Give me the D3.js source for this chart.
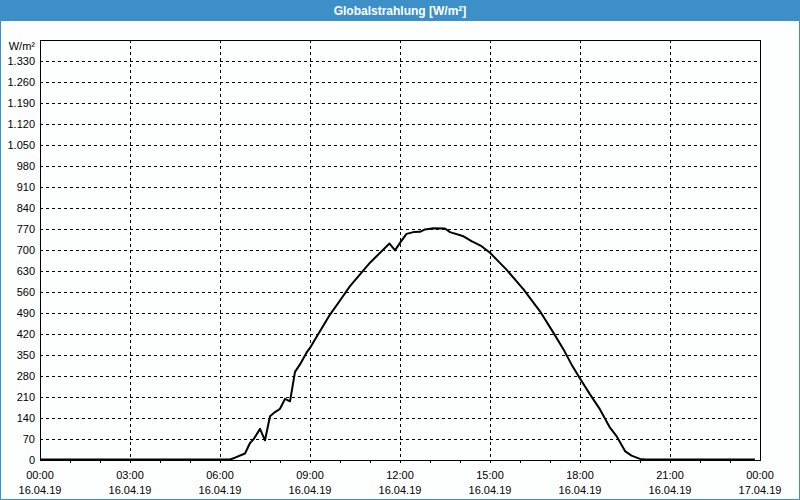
<!DOCTYPE html>
<html><head><meta charset="utf-8">
<script src="https://cdn.jsdelivr.net/npm/d3@7"></script>
<style>html,body{margin:0;padding:0;background:#fff}svg{display:block}</style>
</head><body>
<svg id="c" width="800" height="500"></svg>
<script>
const title = "Globalstrahlung [W/m²]";
const unitLabel = "W/m²";
const times = ["00:00","06:20","06:30","06:50","07:00","07:07","07:20","07:30","07:40","07:50","08:00","08:10","08:20","08:30","08:40","08:53","09:00","09:10","09:40","10:00","10:20","11:00","11:39","11:50","12:00","12:13","12:27","12:40","12:50","13:07","13:30","13:40","14:07","14:23","14:43","15:00","15:33","16:07","16:40","17:07","17:27","17:43","18:00","18:20","18:40","19:00","19:13","19:30","19:43","20:00","20:10","23:50"];
const values = [0,0,6,20,55,67,102,64,144,158,169,202,194,292,317,356,372,400,483,530,578,656,720,697,722,752,758,759,767,771,770,758,744,728,711,689,633,567,494,422,367,317,270,217,167,106,78,28,13,2,0,0];
const yTicks = [0,70,140,210,280,350,420,490,560,630,700,770,840,910,980,1050,1120,1190,1260,1330];
const xTickHours = [0,3,6,9,12,15,18,21,24];
const xTickTimes = ["00:00","03:00","06:00","09:00","12:00","15:00","18:00","21:00","00:00"];
const xTickDates = ["16.04.19","16.04.19","16.04.19","16.04.19","16.04.19","16.04.19","16.04.19","16.04.19","17.04.19"];

const W = 800, H = 500;
const m = {l:40, r:760, t:40, b:460};
const svg = d3.select("#c");
const font = "'Liberation Sans', Arial, sans-serif";
const fmt = d3.formatLocale({decimal:",", thousands:".", grouping:[3], currency:["","€"]}).format(",d");

svg.append("rect").attr("x",0).attr("y",0).attr("width",W).attr("height",H).attr("fill","#fdfefe");
svg.append("rect").attr("x",0).attr("y",0).attr("width",W).attr("height",21).attr("fill","#3c8fc7");
svg.append("rect").attr("x",0.5).attr("y",0.5).attr("width",W-1).attr("height",H-1).attr("fill","none").attr("stroke","#3c8fc7");
svg.append("text").attr("x",W/2).attr("y",14.5).attr("text-anchor","middle")
  .attr("font-family",font).attr("font-weight","bold").attr("font-size",12).attr("fill","#fff").text(title);

const x = d3.scaleLinear().domain([0,24]).range([m.l, m.r]);
const y = d3.scaleLinear().domain([0,1400]).range([m.b, m.t]);
const toH = s => { const [h,mm] = s.split(":").map(Number); return h + mm/60; };

const g = svg.append("g");
// horizontal grid
g.selectAll(".hg").data(yTicks.filter(v=>v>0)).join("line")
  .attr("x1",m.l).attr("x2",m.r).attr("y1",d=>Math.round(y(d))+0.5).attr("y2",d=>Math.round(y(d))+0.5)
  .attr("stroke","#000").attr("stroke-width",1).attr("stroke-dasharray","3,3").attr("shape-rendering","crispEdges");
// vertical grid
g.selectAll(".vg").data(xTickHours.slice(1,-1)).join("line")
  .attr("x1",d=>Math.round(x(d))+0.5).attr("x2",d=>Math.round(x(d))+0.5).attr("y1",m.t).attr("y2",m.b)
  .attr("stroke","#000").attr("stroke-width",1).attr("stroke-dasharray","3,3").attr("shape-rendering","crispEdges");
// minor hourly ticks
g.selectAll(".mt").data(d3.range(1,24)).join("line")
  .attr("x1",d=>Math.round(x(d))+0.5).attr("x2",d=>Math.round(x(d))+0.5).attr("y1",m.b).attr("y2",m.b+3)
  .attr("stroke","#000").attr("shape-rendering","crispEdges");
// frame
g.append("rect").attr("x",m.l+0.5).attr("y",m.t+0.5).attr("width",m.r-m.l).attr("height",m.b-m.t)
  .attr("fill","none").attr("stroke","#000").attr("shape-rendering","crispEdges");

// y labels
g.selectAll(".yl").data(yTicks).join("text")
  .attr("x",35).attr("y",d=>y(d)).attr("dy","0.35em").attr("text-anchor","end")
  .attr("font-family",font).attr("font-size",11).attr("fill","#000").text(d=>fmt(d));
g.append("text").attr("x",35).attr("y",46).attr("dy","0.35em").attr("text-anchor","end")
  .attr("font-family",font).attr("font-size",11).attr("fill","#000").text(unitLabel);

// x labels
g.selectAll(".xl").data(xTickHours).join("text")
  .attr("x",d=>x(d)).attr("y",479).attr("text-anchor","middle")
  .attr("font-family",font).attr("font-size",11).attr("fill","#000").text((d,i)=>xTickTimes[i]);
g.selectAll(".xd").data(xTickHours).join("text")
  .attr("x",d=>x(d)).attr("y",494).attr("text-anchor","middle")
  .attr("font-family",font).attr("font-size",11).attr("fill","#000").text((d,i)=>xTickDates[i]);

// data line
const data = times.map((t,i)=>({h:toH(t), v:values[i]}));
g.append("path").datum(data)
  .attr("d", d3.line().x(d=>x(d.h)).y(d=>y(d.v)-0.5))
  .attr("fill","none").attr("stroke","#000").attr("stroke-width",2).attr("stroke-linejoin","round");
</script>
</body></html>
